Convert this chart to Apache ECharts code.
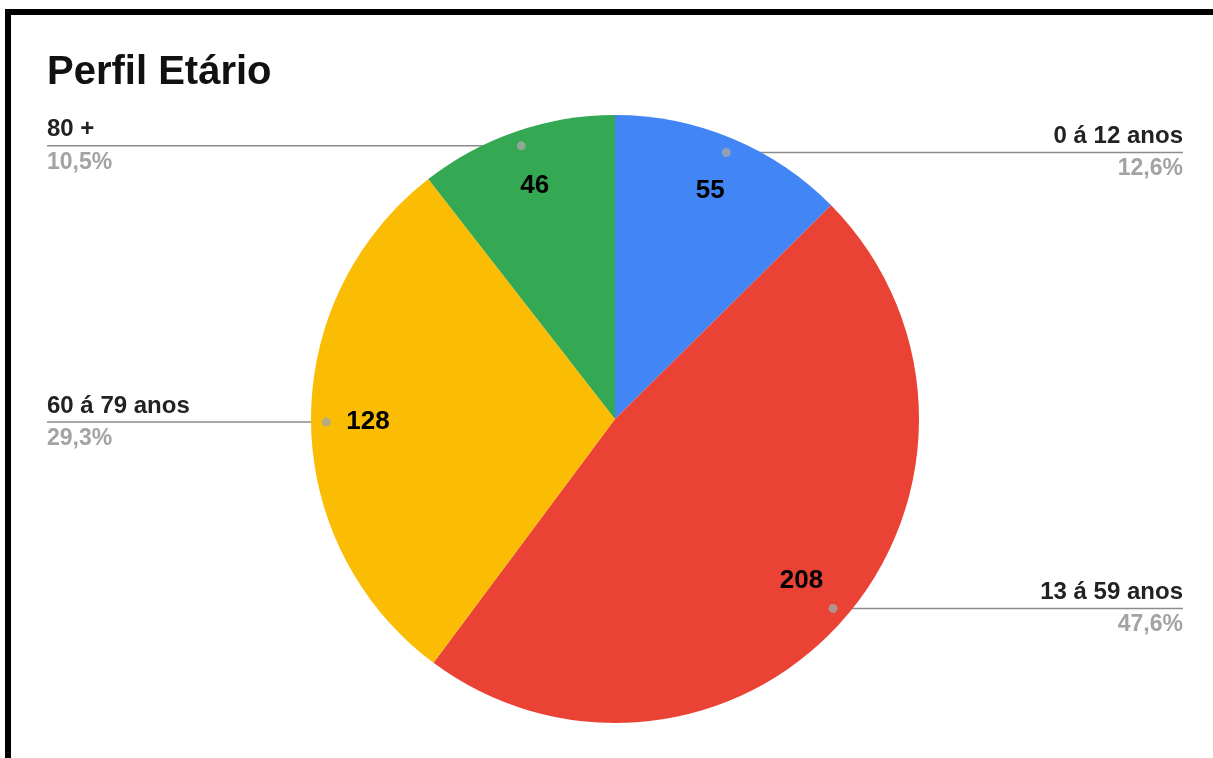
<!DOCTYPE html>
<html>
<head>
<meta charset="utf-8">
<title>Perfil Etário</title>
<script src="https://cdn.jsdelivr.net/npm/echarts@6/dist/echarts.min.js"></script>
<style>
  html, body { margin: 0; padding: 0; background: #fff; }
  #chart { position: absolute; left: 0; top: 0; width: 1213px; height: 758px; }
  #frame {
    position: absolute; left: 5px; top: 9px; right: 0; bottom: 0;
    border-top: 6px solid #000; border-left: 6px solid #000;
    pointer-events: none;
  }
</style>
</head>
<body>
<div id="chart"></div>
<div id="frame"></div>
<script>
// data
const categories = ['0 á 12 anos', '13 á 59 anos', '60 á 79 anos', '80 +'];
const values = [55, 208, 128, 46];

const colors = ['#4285F4', '#EA4335', '#FBBC04', '#34A853'];
const font = '"Liberation Sans", Arial, sans-serif';
const center = [615, 419];
const radius = 304;

const total = values.reduce((a, b) => a + b, 0);
const pieData = categories.map((name, i) => ({ name: name, value: values[i] }));

// position of the little dots where the leader lines start (middle of each slice)
let acc = 0;
const dots = values.map(v => {
  const mid = acc + v / 2;
  acc += v;
  return [0.95, mid];
});

const chart = echarts.init(document.getElementById('chart'));

const option = {
  backgroundColor: '#fff',
  animation: false,
  title: {
    text: 'Perfil Etário',
    left: 42,
    top: 48,
    textStyle: { fontFamily: font, fontSize: 40, fontWeight: 'bold', color: '#111' }
  },
  polar: { center: center, radius: radius },
  angleAxis: {
    type: 'value', min: 0, max: total, startAngle: 90, clockwise: true,
    show: false, axisLine: { show: false }, axisTick: { show: false },
    axisLabel: { show: false }, splitLine: { show: false }
  },
  radiusAxis: {
    type: 'value', min: 0, max: 1, show: false,
    axisLine: { show: false }, axisTick: { show: false },
    axisLabel: { show: false }, splitLine: { show: false }
  },
  series: [
    {
      // colored slices
      type: 'pie',
      center: center,
      radius: radius,
      startAngle: 90,
      clockwise: true,
      color: colors,
      data: pieData,
      label: { show: false },
      labelLine: { show: false },
      itemStyle: { borderWidth: 0 },
      emphasis: { disabled: true },
      silent: true
    },
    {
      // value labels inside the slices
      type: 'pie',
      center: center,
      radius: [184, radius],
      startAngle: 90,
      clockwise: true,
      data: pieData,
      itemStyle: { color: 'rgba(0,0,0,0)' },
      label: {
        show: true,
        position: 'inside',
        formatter: '{c}',
        fontFamily: font,
        fontSize: 26,
        fontWeight: 'bold',
        color: '#000',
        padding: [7, 0, 0, 0]
      },
      labelLine: { show: false },
      emphasis: { disabled: true },
      silent: true
    },
    {
      // outside name / percent labels
      type: 'pie',
      center: center,
      radius: radius * 0.95,
      startAngle: 90,
      clockwise: true,
      percentPrecision: 1,
      data: pieData,
      itemStyle: { color: 'rgba(0,0,0,0)' },
      label: {
        show: true,
        position: 'outside',
        formatter: p => '{n|' + p.name + '}\n{p|' + p.percent.toFixed(1).replace('.', ',') + '%}',
        rich: {
          n: { fontFamily: font, fontSize: 24, fontWeight: 'bold', color: '#222', lineHeight: 30, padding: [0, 0, 2, 0] },
          p: { fontFamily: font, fontSize: 23, fontWeight: 'bold', color: '#a3a3a3', lineHeight: 30, padding: [3, 0, 0, 0] }
        }
      },
      labelLine: {
        show: true,
        length: 0,
        length2: 10,
        lineStyle: { color: '#8c8c8c', width: 1.5 }
      },
      labelLayout: function (p) {
        const start = p.labelLinePoints[0];
        const isLeft = start[0] < center[0];
        const edgeX = isLeft ? 47 : 1183;
        return {
          x: edgeX,
          y: start[1],
          align: isLeft ? 'left' : 'right',
          verticalAlign: 'middle',
          labelLinePoints: [start, [edgeX, start[1]], [edgeX, start[1]]]
        };
      },
      emphasis: { disabled: true },
      silent: true
    },
    {
      type: 'scatter',
      coordinateSystem: 'polar',
      data: dots,
      symbol: 'circle',
      symbolSize: 9,
      itemStyle: { color: '#a6a6a6' },
      silent: true,
      z: 5
    }
  ]
};

chart.setOption(option);
</script>
</body>
</html>
